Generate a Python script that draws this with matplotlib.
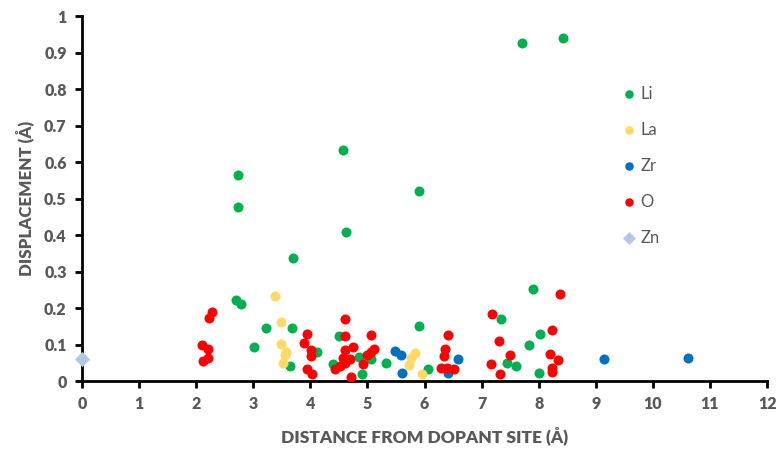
import matplotlib
matplotlib.use("Agg")
import matplotlib.pyplot as plt

plt.rcParams['font.family'] = ['Lato', 'DejaVu Sans']

# Displacement of each atom vs. its distance from the dopant site
li_x = [8.43, 7.70, 4.58, 2.74, 2.74, 5.90, 4.62, 3.70, 7.90, 2.70, 2.78, 7.34, 5.91,
        3.22, 3.68, 8.03, 4.50, 7.83, 3.01, 4.11, 4.86, 5.06, 5.32, 4.40, 3.64, 7.45,
        7.60, 6.07, 4.91, 8.01]
li_y = [0.939, 0.925, 0.633, 0.565, 0.478, 0.521, 0.407, 0.338, 0.252, 0.222, 0.210,
        0.170, 0.151, 0.144, 0.144, 0.129, 0.124, 0.098, 0.094, 0.079, 0.066, 0.060,
        0.050, 0.046, 0.041, 0.048, 0.041, 0.034, 0.018, 0.021]

la_x = [3.38, 3.49, 3.49, 3.58, 3.55, 3.53, 5.83, 5.77, 5.72, 5.96]
la_y = [0.234, 0.162, 0.101, 0.080, 0.071, 0.050, 0.078, 0.062, 0.044, 0.018]

zr_x = [5.49, 5.58, 5.61, 6.59, 6.42, 9.14, 10.61]
zr_y = [0.083, 0.071, 0.021, 0.060, 0.023, 0.060, 0.062]

o_x = [2.27, 2.22, 2.11, 2.20, 2.20, 2.12,
       3.95, 3.89, 4.02, 4.02, 3.95, 4.03,
       4.61, 4.60, 5.07, 4.75, 4.61, 5.11, 5.06, 5.00, 4.57, 4.70, 4.61, 4.52, 4.43,
       4.93, 4.71,
       6.42, 6.36, 6.34, 6.29, 6.40, 6.51,
       7.19, 7.31, 7.50, 7.16, 7.32,
       8.37, 8.23, 8.19, 8.34, 8.24, 8.24]
o_y = [0.188, 0.174, 0.099, 0.088, 0.064, 0.055,
       0.129, 0.105, 0.085, 0.068, 0.032, 0.018,
       0.169, 0.124, 0.126, 0.094, 0.085, 0.087, 0.079, 0.071, 0.064, 0.060, 0.050,
       0.042, 0.032, 0.047, 0.012,
       0.126, 0.088, 0.069, 0.037, 0.037, 0.032,
       0.183, 0.110, 0.072, 0.046, 0.020,
       0.238, 0.140, 0.074, 0.058, 0.037, 0.025]

zn_x = [0.0]
zn_y = [0.060]

x_ticks = list(range(0, 13))
y_ticks = [0, 0.1, 0.2, 0.3, 0.4, 0.5, 0.6, 0.7, 0.8, 0.9, 1]
y_tick_labels = ['0', '0.1', '0.2', '0.3', '0.4', '0.5', '0.6', '0.7', '0.8', '0.9', '1']

grey = '#595959'

fig = plt.figure(figsize=(7.83, 4.5), dpi=100)
ax = fig.add_axes([0.1047, 0.1533, 0.8749, 0.8111])

ms = 52
ax.scatter(li_x, li_y, s=ms, color='#00B050', label='Li', zorder=3, linewidths=0)
ax.scatter(la_x, la_y, s=ms, color='#FFD966', label='La', zorder=3, linewidths=0)
ax.scatter(zr_x, zr_y, s=ms, color='#0070C0', label='Zr', zorder=3, linewidths=0)
ax.scatter(o_x, o_y, s=ms, color='#FF0000', label='O', zorder=3, linewidths=0)
ax.scatter(zn_x, zn_y, s=60, color='#B4C7E7', marker='D', label='Zn', zorder=3,
           linewidths=0, clip_on=False)

ax.set_xlim(0, 12)
ax.set_ylim(0, 1)
ax.set_xticks(x_ticks)
ax.set_yticks(y_ticks)
ax.set_yticklabels(y_tick_labels)

for s in ['top', 'right']:
    ax.spines[s].set_visible(False)
for s in ['left', 'bottom']:
    ax.spines[s].set_linewidth(2.0)
    ax.spines[s].set_color('black')

ax.tick_params(axis='both', direction='out', length=5, width=2, color='black',
               labelsize=11.5, labelcolor=grey, pad=6)
for lab in ax.get_xticklabels() + ax.get_yticklabels():
    lab.set_fontweight('heavy')

ax.set_xlabel('DISTANCE FROM DOPANT SITE (Å)', fontsize=12.5, fontweight='heavy',
              color=grey, labelpad=10)
ax.set_ylabel('DISPLACEMENT (Å)', fontsize=12.2, fontweight='heavy', color=grey,
              labelpad=7)

leg = ax.legend(loc='upper left', bbox_to_anchor=(0.764, 0.85), frameon=False,
                fontsize=12, labelspacing=1.2, handletextpad=0.2,
                markerscale=0.85, handlelength=1.0)
for t in leg.get_texts():
    t.set_color(grey)

fig.savefig('out.png', dpi=100)
